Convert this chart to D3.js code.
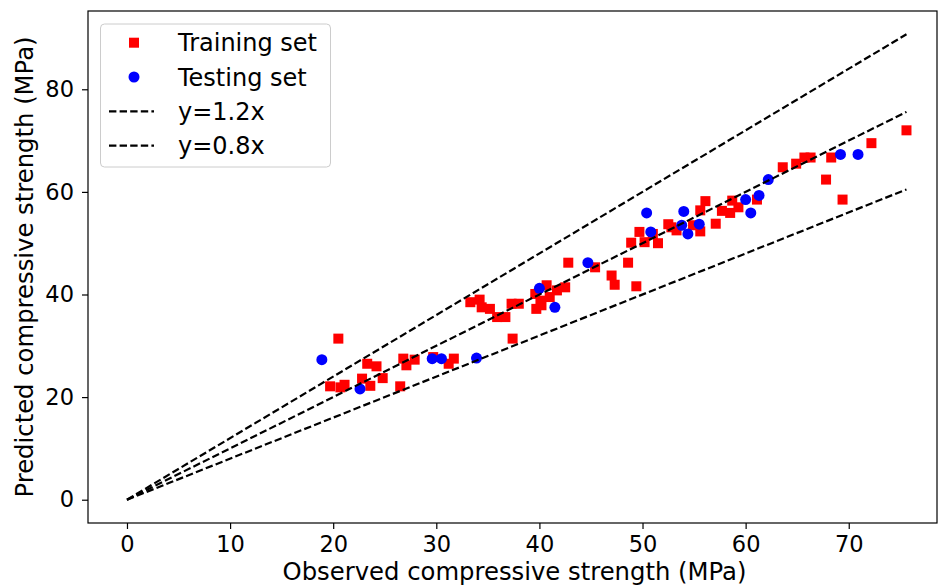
<!DOCTYPE html>
<html>
<head>
<meta charset="utf-8">
<script src="https://cdn.jsdelivr.net/npm/d3@7"></script>
<style>
  html, body { margin: 0; padding: 0; background: #fff; }
  svg { display: block; font-family: "DejaVu Sans", sans-serif; }
</style>
</head>
<body>
<svg id="chart" width="940" height="586"></svg>
<script>
// Observed vs predicted compressive strength (MPa)
const trainObserved = [20.5, 19.7, 20.7, 21.1, 23.3, 24.2, 22.8, 23.6, 24.8, 26.5, 26.8, 27.1, 27.9, 29.7, 31.7, 31.2,
  37.4, 33.3, 34.2, 34.4, 35.2, 35.9, 36.7, 37.3, 38.0, 39.6, 40.7, 39.7, 40.2, 41.0, 41.7, 42.5, 42.8, 45.4,
  47.0, 47.3, 48.6, 49.4, 48.9, 49.7, 50.2, 51.0, 51.5, 52.8, 53.3, 54.9, 55.6, 56.1, 57.1, 57.7, 58.5, 58.7,
  59.3, 61.1, 63.6, 64.9, 65.7, 66.3, 67.8, 68.3, 69.4, 72.2, 75.6, 52.5, 40.1, 55.6];
const trainPredicted = [31.4, 22.1, 21.9, 22.4, 26.5, 26.0, 23.6, 22.2, 23.7, 22.1, 27.5, 26.2, 27.3, 27.8, 27.5, 26.5,
  31.4, 38.5, 39.0, 37.5, 37.2, 35.6, 35.6, 38.2, 38.2, 40.1, 41.8, 37.2, 37.9, 39.5, 40.8, 41.4, 46.2, 45.3,
  43.7, 41.9, 46.2, 41.6, 50.1, 52.2, 50.2, 51.8, 50.0, 53.1, 52.5, 53.5, 56.4, 58.2, 53.8, 56.3, 55.9, 58.3,
  57.0, 58.5, 64.8, 65.5, 66.7, 66.7, 62.4, 66.7, 58.5, 69.5, 72.0, 53.7, 38.8, 52.3];

const testObserved = [18.9, 22.6, 29.6, 30.5, 33.9, 40.0, 41.5, 44.7, 50.4, 50.8, 53.8, 54.0, 54.4, 55.5,
  60.0, 60.5, 61.3, 62.2, 69.2, 70.9];
const testPredicted = [27.3, 21.6, 27.5, 27.5, 27.6, 41.2, 37.5, 46.2, 55.9, 52.2, 53.5, 56.2, 51.8, 53.7,
  58.5, 55.9, 59.3, 62.4, 67.3, 67.3];

const ratioSlopes = [1.2, 1.0, 0.8];
const legendLabels = ["Training set", "Testing set", "y=1.2x", "y=0.8x"];
const xTicks = [0, 10, 20, 30, 40, 50, 60, 70];
const yTicks = [0, 20, 40, 60, 80];
const xLimits = [-3.78, 78.56];
const yLimits = [-4.54, 95.26];

const svg = d3.select("#chart");
const plot = { left: 88, right: 937, top: 11, bottom: 523 };

const x = d3.scaleLinear().domain(xLimits).range([plot.left, plot.right]);
const y = d3.scaleLinear().domain(yLimits).range([plot.bottom, plot.top]);

const train = trainObserved.map((v, i) => ({ x: v, y: trainPredicted[i] }));
const test = testObserved.map((v, i) => ({ x: v, y: testPredicted[i] }));
const xMax = d3.max(trainObserved.concat(testObserved));

const dash = "7.4,3.2";
const dashWidth = 2.2;

// scatter: training squares then testing circles
const sq = 10;
svg.append("g").selectAll("rect").data(train).join("rect")
  .attr("x", d => x(d.x) - sq / 2)
  .attr("y", d => y(d.y) - sq / 2)
  .attr("width", sq).attr("height", sq)
  .attr("fill", "#ff0000");

svg.append("g").selectAll("circle").data(test).join("circle")
  .attr("cx", d => x(d.x))
  .attr("cy", d => y(d.y))
  .attr("r", 5.5)
  .attr("fill", "#0000ff");

// reference lines y = k x
svg.append("g").selectAll("line").data(ratioSlopes).join("line")
  .attr("x1", x(0)).attr("y1", y(0))
  .attr("x2", x(xMax)).attr("y2", k => y(k * xMax))
  .attr("stroke", "#000").attr("stroke-width", dashWidth)
  .attr("stroke-dasharray", dash);

// axes
const xAxis = d3.axisBottom(x).tickValues(xTicks).tickSize(6).tickPadding(7).tickFormat(d3.format("d"));
const yAxis = d3.axisLeft(y).tickValues(yTicks).tickSize(6).tickPadding(8).tickFormat(d3.format("d"));

const gx = svg.append("g").attr("transform", `translate(0,${plot.bottom})`).call(xAxis);
const gy = svg.append("g").attr("transform", `translate(${plot.left},0)`).call(yAxis);
[gx, gy].forEach(g => {
  g.select(".domain").remove();
  g.selectAll(".tick line").attr("stroke", "#000").attr("stroke-width", 1.2);
  g.selectAll(".tick text").attr("fill", "#000").style("font-size", "22.5px")
    .style("font-family", "'DejaVu Sans', sans-serif");
});

// frame
svg.append("rect")
  .attr("x", plot.left).attr("y", plot.top)
  .attr("width", plot.right - plot.left).attr("height", plot.bottom - plot.top)
  .attr("fill", "none").attr("stroke", "#000").attr("stroke-width", 1.2);

// axis titles
svg.append("text")
  .attr("x", (plot.left + plot.right) / 2 + 2).attr("y", 580)
  .attr("text-anchor", "middle").style("font-size", "24.3px")
  .text("Observed compressive strength (MPa)");

svg.append("text")
  .attr("transform", `translate(33,${(plot.top + plot.bottom) / 2}) rotate(-90)`)
  .attr("text-anchor", "middle").style("font-size", "24.3px")
  .text("Predicted compressive strength (MPa)");

// legend
const lg = svg.append("g");
lg.append("rect")
  .attr("x", 100.5).attr("y", 24).attr("width", 230).attr("height", 143)
  .attr("rx", 4).attr("fill", "#fff").attr("fill-opacity", 0.8)
  .attr("stroke", "#cccccc").attr("stroke-width", 1);

const rowY = i => 42.7 + i * 34.3;
lg.append("rect").attr("x", 134 - sq / 2).attr("y", rowY(0) - sq / 2)
  .attr("width", sq).attr("height", sq).attr("fill", "#ff0000");
lg.append("circle").attr("cx", 134).attr("cy", rowY(1)).attr("r", 5.5).attr("fill", "#0000ff");
[2, 3].forEach(i => {
  lg.append("line").attr("x1", 109).attr("x2", 154).attr("y1", rowY(i)).attr("y2", rowY(i))
    .attr("stroke", "#000").attr("stroke-width", dashWidth).attr("stroke-dasharray", dash);
});
lg.selectAll("text.lbl").data(legendLabels).join("text")
  .attr("class", "lbl")
  .attr("x", 178).attr("y", (d, i) => rowY(i))
  .attr("dy", "0.36em")
  .style("font-size", "24px")
  .text(d => d);
</script>
</body>
</html>
